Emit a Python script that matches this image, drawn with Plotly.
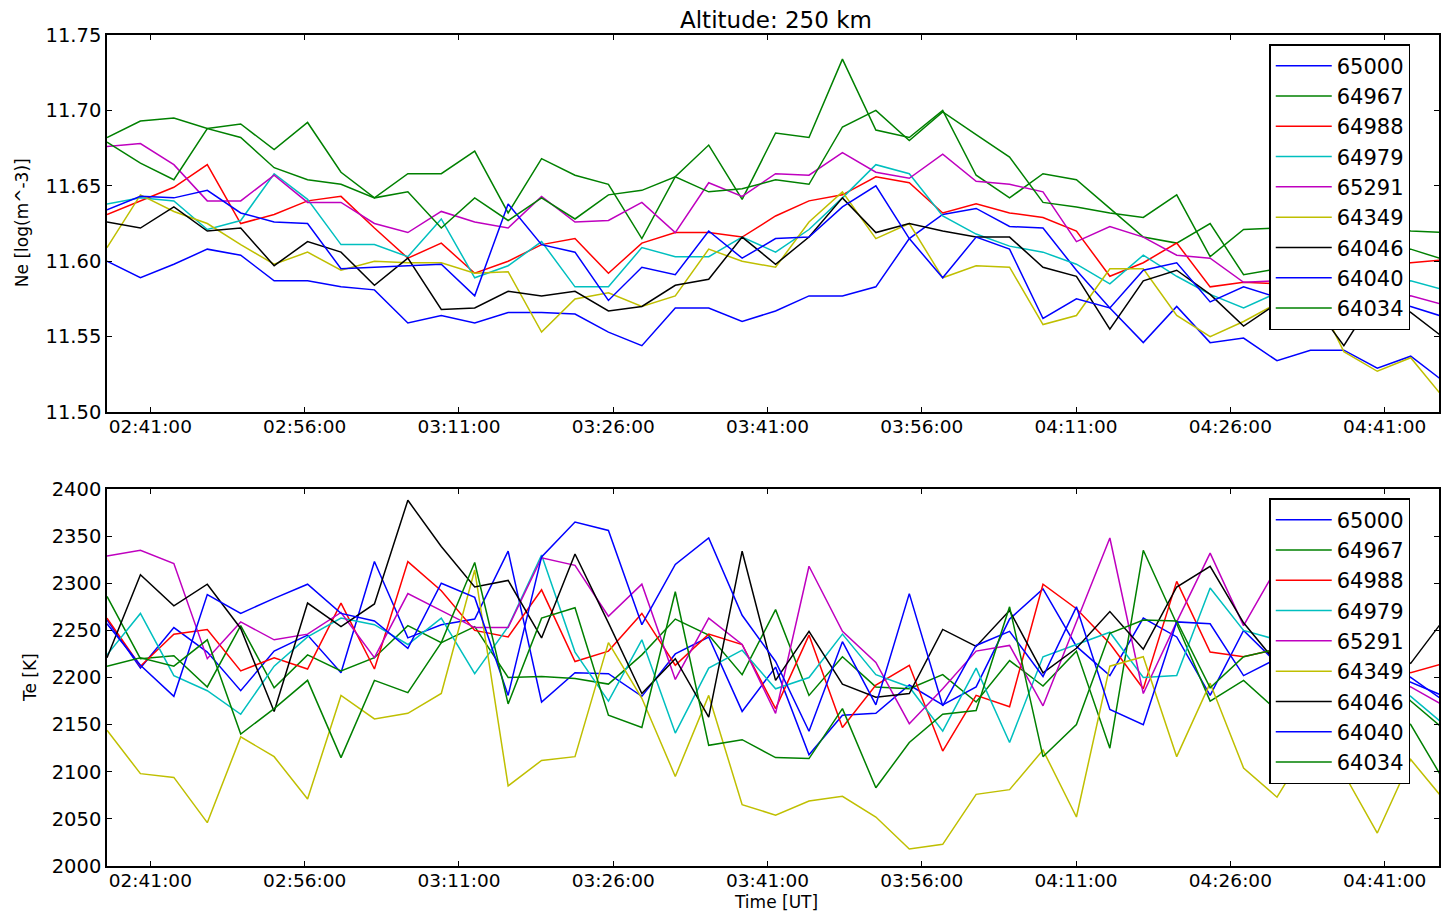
import pandas as pd
import plotly.graph_objects as go
from plotly.subplots import make_subplots

# ---- data ----
start_time = "2010-01-01 02:36:47"
n_points = 41
step = "195s"

names = ["65000", "64967", "64988", "64979", "65291", "64349", "64046", "64040", "64034"]
colors = ["#0000ff", "#008000", "#ff0000", "#00bfbf", "#bf00bf", "#bfbf00", "#000000", "#0000ff", "#008000"]

ne_65000 = [11.600, 11.589, 11.598, 11.608, 11.604, 11.587, 11.587, 11.583, 11.581, 11.559, 11.564,
            11.559, 11.566, 11.566, 11.565, 11.553, 11.544, 11.569, 11.569, 11.560,
            11.567, 11.577, 11.577, 11.583, 11.615, 11.631, 11.635, 11.623, 11.622, 11.594,
            11.569, 11.546, 11.570, 11.546, 11.549, 11.534, 11.541, 11.541, 11.529, 11.537, 11.520]
ne_64967 = [11.682, 11.693, 11.695, 11.688, 11.691, 11.674, 11.692, 11.659, 11.642, 11.658, 11.658,
            11.673, 11.632, 11.668, 11.657, 11.651, 11.615, 11.656, 11.677, 11.641,
            11.685, 11.682, 11.734, 11.687, 11.682, 11.700, 11.657, 11.642, 11.658, 11.654,
            11.635, 11.616, 11.612, 11.625, 11.591, 11.595, 11.598, 11.605, 11.612, 11.608, 11.601]
ne_64988 = [11.631, 11.640, 11.649, 11.664, 11.625, 11.631, 11.640, 11.643, 11.622, 11.602, 11.612,
            11.592, 11.600, 11.611, 11.615, 11.592, 11.612, 11.619, 11.619, 11.616,
            11.630, 11.640, 11.644, 11.656, 11.652, 11.632, 11.638, 11.632, 11.629, 11.620,
            11.590, 11.599, 11.612, 11.583, 11.586, 11.585, 11.587, 11.592, 11.596, 11.599, 11.601]
ne_64979 = [11.638, 11.642, 11.640, 11.621, 11.627, 11.658, 11.641, 11.611, 11.611, 11.603, 11.628,
            11.589, 11.597, 11.613, 11.583, 11.583, 11.609, 11.603, 11.603, 11.616,
            11.606, 11.621, 11.642, 11.664, 11.658, 11.630, 11.618, 11.610, 11.606, 11.598,
            11.585, 11.604, 11.590, 11.578, 11.569, 11.579, 11.582, 11.576, 11.581, 11.587, 11.581]
ne_65291 = [11.676, 11.678, 11.664, 11.640, 11.640, 11.657, 11.639, 11.639, 11.625, 11.619, 11.633,
            11.626, 11.622, 11.643, 11.626, 11.627, 11.639, 11.619, 11.652, 11.643,
            11.658, 11.657, 11.672, 11.659, 11.655, 11.671, 11.653, 11.651, 11.646, 11.613,
            11.623, 11.616, 11.604, 11.602, 11.586, 11.587, 11.584, 11.564, 11.574, 11.577, 11.571]
ne_64349 = [11.609, 11.644, 11.633, 11.625, 11.611, 11.598, 11.606, 11.594, 11.600, 11.599, 11.599,
            11.592, 11.593, 11.553, 11.575, 11.579, 11.570, 11.577, 11.608, 11.600,
            11.596, 11.626, 11.646, 11.615, 11.625, 11.589, 11.597, 11.596, 11.558, 11.564,
            11.595, 11.595, 11.564, 11.550, 11.560, 11.572, 11.585, 11.540, 11.527, 11.536, 11.509]
ne_64046 = [11.626, 11.622, 11.636, 11.620, 11.622, 11.597, 11.613, 11.606, 11.584, 11.602, 11.568,
            11.569, 11.580, 11.577, 11.580, 11.567, 11.570, 11.584, 11.588, 11.616,
            11.598, 11.616, 11.642, 11.619, 11.625, 11.620, 11.616, 11.616, 11.596, 11.590,
            11.555, 11.587, 11.594, 11.578, 11.557, 11.572, 11.574, 11.544, 11.579, 11.566, 11.549]
ne_64040 = [11.634, 11.643, 11.642, 11.647, 11.632, 11.626, 11.625, 11.595, 11.596, 11.597, 11.598,
            11.577, 11.638, 11.611, 11.606, 11.574, 11.596, 11.591, 11.620, 11.602,
            11.615, 11.616, 11.636, 11.650, 11.615, 11.589, 11.616, 11.608, 11.562, 11.575,
            11.569, 11.594, 11.599, 11.573, 11.583, 11.576, 11.580, 11.586, 11.575, 11.570, 11.563]
ne_64034 = [11.679, 11.665, 11.654, 11.688, 11.682, 11.662, 11.654, 11.651, 11.642, 11.646, 11.622,
            11.642, 11.627, 11.642, 11.628, 11.644, 11.647, 11.656, 11.646, 11.648,
            11.654, 11.651, 11.689, 11.700, 11.680, 11.699, 11.684, 11.669, 11.639, 11.636,
            11.632, 11.629, 11.644, 11.603, 11.621, 11.622, 11.625, 11.628, 11.624, 11.620, 11.619]

te_65000 = [2261, 2210, 2253, 2227, 2186, 2228, 2245, 2205, 2323, 2242, 2256,
            2262, 2334, 2174, 2205, 2204, 2180, 2225, 2243, 2164,
            2211, 2118, 2160, 2162, 2192, 2171, 2190, 2262, 2294, 2233,
            2202, 2263, 2243, 2181, 2250, 2215, 2190, 2200, 2220, 2200, 2175]
te_64967 = [2286, 2220, 2223, 2190, 2255, 2189, 2224, 2207, 2221, 2255, 2237,
            2254, 2200, 2201, 2199, 2193, 2224, 2262, 2245, 2203,
            2272, 2181, 2222, 2190, 2188, 2203, 2174, 2218, 2191, 2228,
            2125, 2335, 2257, 2175, 2197, 2165, 2180, 2200, 2170, 2150, 2090]
te_64988 = [2263, 2212, 2246, 2251, 2207, 2221, 2209, 2279, 2209, 2323, 2292,
            2250, 2243, 2293, 2217, 2228, 2268, 2213, 2246, 2235,
            2167, 2245, 2147, 2192, 2213, 2122, 2181, 2169, 2299, 2273,
            2236, 2188, 2302, 2227, 2222, 2230, 2215, 2240, 2225, 2205, 2215]
te_64979 = [2224, 2268, 2202, 2186, 2161, 2212, 2243, 2263, 2256, 2235, 2263,
            2204, 2254, 2330, 2227, 2175, 2240, 2141, 2210, 2229,
            2188, 2200, 2246, 2203, 2190, 2143, 2210, 2131, 2222, 2235,
            2248, 2200, 2202, 2295, 2250, 2240, 2225, 2215, 2200, 2180, 2150]
te_65291 = [2329, 2335, 2321, 2220, 2259, 2240, 2246, 2269, 2221, 2289, 2271,
            2253, 2253, 2327, 2319, 2265, 2299, 2198, 2263, 2235,
            2162, 2318, 2249, 2216, 2151, 2188, 2228, 2234, 2170, 2260,
            2348, 2183, 2259, 2332, 2255, 2317, 2280, 2240, 2200, 2190, 2170]
te_64349 = [2144, 2098, 2094, 2046, 2137, 2116, 2071, 2181, 2156, 2162, 2183,
            2314, 2085, 2112, 2116, 2237, 2178, 2095, 2181, 2065,
            2054, 2069, 2074, 2052, 2018, 2023, 2076, 2081, 2123, 2052,
            2212, 2222, 2116, 2194, 2104, 2073, 2131, 2098, 2035, 2113, 2070]
te_64046 = [2221, 2309, 2276, 2299, 2252, 2164, 2279, 2254, 2278, 2388, 2339,
            2296, 2303, 2242, 2331, 2258, 2183, 2220, 2158, 2334,
            2197, 2249, 2193, 2179, 2183, 2251, 2233, 2271, 2205, 2231,
            2270, 2230, 2296, 2318, 2258, 2215, 2230, 2245, 2235, 2215, 2262]
te_64040 = [2257, 2213, 2180, 2288, 2268, 2284, 2299, 2268, 2260, 2231, 2300,
            2285, 2181, 2328, 2365, 2356, 2256, 2320, 2348, 2266,
            2217, 2143, 2238, 2171, 2289, 2170, 2234, 2249, 2201, 2275,
            2166, 2150, 2259, 2257, 2202, 2220, 2240, 2230, 2210, 2195, 2180]
te_64034 = [2212, 2221, 2212, 2240, 2140, 2167, 2197, 2115, 2197, 2184, 2237,
            2322, 2172, 2263, 2274, 2160, 2147, 2291, 2128, 2134,
            2115, 2114, 2167, 2083, 2131, 2161, 2165, 2275, 2116, 2150,
            2247, 2261, 2260, 2189, 2222, 2230, 2215, 2195, 2210, 2175, 2145]

ne_series = [ne_65000, ne_64967, ne_64988, ne_64979, ne_65291, ne_64349, ne_64046, ne_64040, ne_64034]
te_series = [te_65000, te_64967, te_64988, te_64979, te_65291, te_64349, te_64046, te_64040, te_64034]

x_range = ["2010-01-01 02:36:47", "2010-01-01 04:46:17"]
tick0 = "2010-01-01 02:41:00"

# ---- figure ----
times = pd.date_range(start=start_time, periods=n_points, freq=step)

W, H = 1441, 912
L, R, T, B = 107, 0, 35, 46
top_px = (35, 412)
bot_px = (489, 866)
ph = H - T - B


def dom(px):
    return [(H - B - px[1]) / ph, (H - B - px[0]) / ph]


fig = make_subplots(rows=2, cols=1)

for name, col, ys in zip(names, colors, ne_series):
    fig.add_trace(go.Scatter(x=times, y=ys, mode="lines", name=name,
                             line=dict(color=col, width=1.5), legend="legend"), row=1, col=1)
for name, col, ys in zip(names, colors, te_series):
    fig.add_trace(go.Scatter(x=times, y=ys, mode="lines", name=name,
                             line=dict(color=col, width=1.5), legend="legend2"), row=2, col=1)

font_family = "DejaVu Sans"
axis_common = dict(showline=True, linecolor="black", linewidth=1.5, mirror="allticks",
                   ticks="inside", ticklen=5, tickwidth=1, tickcolor="black",
                   showgrid=False, zeroline=False)

for ax in ["xaxis", "xaxis2"]:
    fig.layout[ax].update(type="date", range=x_range, tick0=tick0, dtick=15 * 60 * 1000,
                          tickformat="%H:%M:%S", ticklabelstandoff=-3,
                          tickfont=dict(family=font_family, size=18.5, color="black"),
                          **axis_common)
fig.layout.xaxis2.update(matches="x")

ytf = dict(family=font_family, size=19.5, color="black")
fig.layout.yaxis.update(range=[11.50, 11.75], dtick=0.05, tickformat=".2f", domain=dom(top_px),
                        tickfont=ytf, **axis_common)
fig.layout.yaxis2.update(range=[2000, 2400], dtick=50, domain=dom(bot_px), tickfont=ytf, **axis_common)
fig.layout.xaxis.update(domain=[0, 1])
fig.layout.xaxis2.update(domain=[0, 1])

leg_common = dict(xanchor="left", yanchor="top", bgcolor="white", bordercolor="black",
                  borderwidth=1.5, font=dict(family=font_family, size=21, color="black"),
                  itemwidth=56, entrywidth=89, entrywidthmode="pixels")
fig.update_layout(
    width=W, height=H,
    margin=dict(l=L, r=R, t=T, b=B),
    paper_bgcolor="white", plot_bgcolor="white",
    showlegend=True,
    legend=dict(x=(1271 - L) / (W - L), y=(H - B - 44) / ph, **leg_common),
    legend2=dict(x=(1271 - L) / (W - L), y=(H - B - 498) / ph, **leg_common),
    font=dict(family=font_family, color="black"),
)

ann_font = dict(family=font_family, size=17, color="black")
fig.add_annotation(text="Altitude: 250 km", xref="paper", yref="paper",
                   x=(777 - L) / (W - L), y=(H - B - 20) / ph, showarrow=False,
                   xanchor="center", yanchor="middle", font=dict(family=font_family, size=23, color="black"))
fig.add_annotation(text="Ne [log(m^-3)]", xref="paper", yref="paper",
                   x=(22 - L) / (W - L), y=(H - B - 223) / ph, showarrow=False, textangle=-90,
                   xanchor="center", yanchor="middle", font=ann_font)
fig.add_annotation(text="Te [K]", xref="paper", yref="paper",
                   x=(30 - L) / (W - L), y=(H - B - 678) / ph, showarrow=False, textangle=-90,
                   xanchor="center", yanchor="middle", font=ann_font)
fig.add_annotation(text="Time [UT]", xref="paper", yref="paper",
                   x=(777 - L) / (W - L), y=(H - B - 902) / ph, showarrow=False,
                   xanchor="center", yanchor="middle", font=ann_font)

fig.write_html("out.html")
